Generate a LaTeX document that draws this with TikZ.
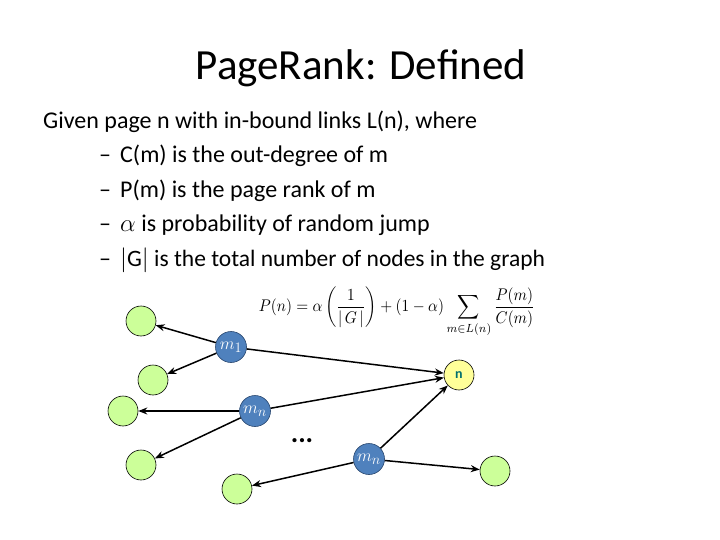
\documentclass[tikz,border=0pt]{standalone}
\usepackage{fontspec}
\setmainfont{Carlito}
\usepackage{amsmath}
\usetikzlibrary{arrows.meta}
\definecolor{leaf}{RGB}{204,255,153}
\definecolor{mblue}{RGB}{79,129,189}
\definecolor{mborder}{RGB}{40,70,110}
\definecolor{nyellow}{RGB}{255,255,153}
\definecolor{nteal}{RGB}{0,110,110}
\tikzset{
  leafnode/.style={circle,draw=black,line width=0.6pt,fill=leaf,minimum size=30pt,inner sep=0pt},
  mnode/.style={circle,draw=mborder,line width=0.6pt,fill=mblue,minimum size=31pt,inner sep=0pt,text=white,font=\fontsize{19}{19}\selectfont},
  nnode/.style={circle,draw=black,line width=0.6pt,fill=nyellow,minimum size=30pt,inner sep=0pt,text=nteal,font=\fontsize{14}{14}\selectfont\bfseries},
  link/.style={line width=1.5pt,-{Stealth[length=9pt,width=7pt]}},
  bodytext/.style={anchor=base west,inner sep=0pt,font=\fontsize{24}{24}\selectfont},
}
\begin{document}
\begin{tikzpicture}[x=1pt,y=-1pt]
\useasboundingbox[fill=white] (0,0) rectangle (720,540);
\node[anchor=base,inner sep=0pt,font=\fontsize{43}{43}\selectfont] (title) at (361,80) {PageRank: Defined};
\node[bodytext] (l0) at (43,129) {Given page n with in-bound links L(n), where};
\node[bodytext] (d1) at (99,163) {–};
\node[bodytext] (l1) at (120,163) {C(m) is the out-degree of m};
\node[bodytext] (d2) at (99,197) {–};
\node[bodytext] (l2) at (120,197) {P(m) is the page rank of m};
\node[bodytext] (d3) at (99,231) {–};
\node[bodytext] (l3) at (120,231) {$\alpha$ is probability of random jump};
\node[bodytext] (d4) at (99,266) {–};
\node[bodytext] (l4) at (120,266) {\fontsize{23.5}{24}\selectfont$|$G$|$ is the total number of nodes in the graph};
\node[inner sep=0pt] (formula) at (397,312) {\scalebox{1}[1.1]{\resizebox{276pt}{!}{$\displaystyle P(n)=\alpha\left(\frac{1}{|\,G\,|}\right)+(1-\alpha)\sum_{m\in L(n)}\frac{P(m)}{C(m)}$}}};
\node[leafnode] (g1) at (141,321) {};
\node[leafnode] (g2) at (153,380) {};
\node[leafnode] (g3) at (123,411) {};
\node[leafnode] (g4) at (141,465) {};
\node[leafnode] (g5) at (237,489) {};
\node[leafnode] (g6) at (495,471) {};
\node[mnode] (m1) at (231,347) {$m_1$};
\node[mnode] (m2) at (255,411) {$m_n$};
\node[mnode] (m3) at (369,459) {$m_n$};
\node[nnode] (n) at (459,375) {n};
\node[font=\fontsize{28}{28}\selectfont\bfseries,inner sep=0pt] (dots) at (302,441) {...};
\draw[link] (m1) -- (g1);
\draw[link] (m1) -- (g2);
\draw[link] (m1) -- (n);
\draw[link] (m2) -- (g3);
\draw[link] (m2) -- (g4);
\draw[link] (m2) -- (n);
\draw[link] (m3) -- (n);
\draw[link] (m3) -- (g5);
\draw[link] (m3) -- (g6);
\end{tikzpicture}
\end{document}
